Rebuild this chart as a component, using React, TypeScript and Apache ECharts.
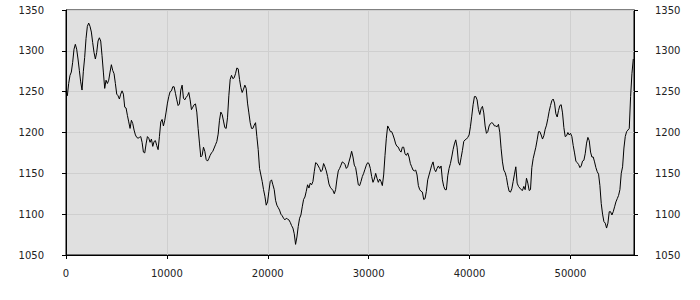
import React, { useEffect, useRef } from "react";
import * as echarts from "echarts";

const X_STEP = 132.3;
const X_MAX = 56300;
const X_TICKS = 10000;
const Y_MIN = 1050;
const Y_MAX = 1350;
const Y_TICKS = 50;

const seg1 = [1249,1245,1260,1270,1274,1286,1302,1308,1302,1290,1276,1262,1252,1275,1292,1315,1330,1334,1330,1323,1310,1298,1290,1298,1312,1316,1312,1294,1274,1254,1264,1260,1264,1274,1283,1276,1272,1260,1247,1245,1241,1247,1251,1247,1231,1230,1221,1213,1205,1215,1211,1203,1197,1194,1193,1194,1195,1188,1176,1175,1186,1195,1193,1188,1192,1183,1189,1190,1184,1179];
const seg2 = [1195,1213,1216,1208,1215,1225,1236,1244,1250,1251,1256,1256,1248,1240,1233,1235,1252,1258,1242,1240,1243,1245,1249,1240,1228,1231,1234,1235,1225,1205,1187,1170,1172,1182,1177,1167,1165,1168,1172,1175,1177,1181,1185,1189,1198,1215,1225,1222,1214,1206,1205,1218,1245,1265,1270,1266,1267,1272,1279,1278,1265,1255,1249,1253,1258,1254,1236,1224,1212,1205];
const seg3 = [1205,1209,1212,1195,1179,1156,1148,1140,1130,1122,1111,1115,1128,1140,1142,1136,1130,1117,1111,1108,1105,1100,1098,1095,1093,1095,1094,1093,1090,1086,1083,1076,1063,1072,1085,1095,1099,1109,1118,1121,1128,1136,1132,1138,1136,1140,1152,1163,1162,1159,1156,1152,1154,1162,1158,1153,1146,1137,1133,1131,1129,1125,1130,1143,1153,1156,1160,1164,1163,1161];
const seg4 = [1156,1158,1164,1170,1177,1170,1160,1157,1147,1136,1135,1140,1146,1150,1155,1160,1163,1162,1156,1146,1139,1143,1150,1144,1139,1143,1140,1135,1148,1172,1193,1208,1205,1201,1201,1197,1192,1186,1183,1182,1178,1176,1182,1182,1174,1172,1175,1170,1162,1158,1154,1153,1154,1148,1135,1130,1128,1127,1118,1119,1128,1142,1148,1154,1160,1164,1155,1152,1156,1159];
const seg5 = [1156,1159,1142,1134,1130,1130,1147,1156,1162,1170,1179,1186,1191,1182,1164,1160,1169,1178,1189,1191,1192,1194,1197,1207,1220,1234,1244,1244,1240,1228,1222,1229,1232,1224,1208,1199,1201,1208,1211,1212,1211,1208,1208,1207,1210,1200,1180,1164,1154,1151,1145,1135,1128,1127,1131,1140,1149,1158,1138,1134,1132,1130,1129,1134,1130,1144,1138,1129,1130,1157,1168];
const seg6 = [1175,1182,1191,1201,1201,1197,1192,1196,1204,1209,1217,1226,1233,1239,1241,1236,1223,1219,1227,1233,1234,1224,1206,1195,1196,1200,1197,1199,1195,1184,1175,1165,1163,1161,1157,1159,1165,1166,1174,1187,1194,1190,1176,1170,1170,1164,1157,1152,1149,1135,1113,1100,1091,1089,1083,1089,1103,1103,1099,1103,1109,1115,1119,1123,1130,1150,1158,1181,1195,1201,1203,1205,1244,1272,1290];

const values = [...seg1, ...seg2, ...seg3, ...seg4, ...seg5, ...seg6];

export default function App() {
  const ref = useRef<HTMLDivElement>(null);
  useEffect(() => {
    document.body.style.margin = "0";
    if (!ref.current) return;
    const chart = echarts.init(ref.current, null, { renderer: "svg" });
    const data = values.map((v, i) => [i * X_STEP, v]);
    const labelStyle = {
      color: "#222",
      fontFamily: "DejaVu Sans",
      fontSize: 10,
      formatter: (v: number) => String(v),
    };
    const yCommon = {
      type: "value",
      min: Y_MIN,
      max: Y_MAX,
      interval: Y_TICKS,
      axisLine: { show: true, lineStyle: { color: "#000", width: 1 } },
      axisTick: { show: true, length: 4, lineStyle: { color: "#000" } },
    };
    chart.setOption({
      animation: false,
      backgroundColor: "#fff",
      grid: {
        left: 66,
        right: 66,
        top: 10,
        bottom: 45,
        show: true,
        backgroundColor: "#e0e0e0",
        borderColor: "#000",
        borderWidth: 1,
      },
      xAxis: {
        type: "value",
        min: 0,
        max: X_MAX,
        interval: X_TICKS,
        axisLine: { show: true, lineStyle: { color: "#000", width: 1 } },
        axisTick: { show: true, length: 4, lineStyle: { color: "#000" } },
        axisLabel: { ...labelStyle, margin: 13, showMaxLabel: false },
        splitLine: { show: true, lineStyle: { color: "#cfcfcf", width: 1 } },
      },
      yAxis: [
        {
          ...yCommon,
          position: "left",
          axisLabel: { ...labelStyle, margin: 22 },
          splitLine: { show: true, lineStyle: { color: "#cfcfcf", width: 1 } },
        },
        {
          ...yCommon,
          position: "right",
          axisLabel: { ...labelStyle, margin: 21 },
          splitLine: { show: false },
        },
      ],
      series: [
        {
          type: "line",
          data,
          showSymbol: false,
          symbol: "none",
          lineStyle: { color: "#000", width: 1 },
          z: 3,
        },
      ],
    });
    return () => chart.dispose();
  }, []);
  return <div ref={ref} style={{ width: 700, height: 300 }} />;
}
